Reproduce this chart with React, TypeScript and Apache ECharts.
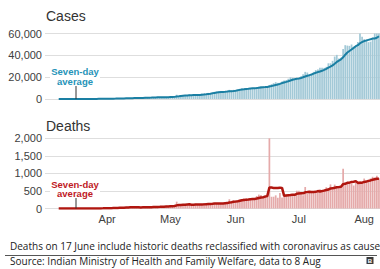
import React, { useEffect, useRef } from "react";
import * as echarts from "echarts";

// Daily values, 3 Mar 2020 to 8 Aug 2020
const START_DATE = "2020-03-03";
const DAY_COUNT = 159;

const casesDaily = [
  // Mar 3-31
  1, 22, 2, 1, 3, 5, 4, 6, 11, 9, 20, 11, 6, 23, 14, 38, 50, 86, 66, 103, 37, 121, 70, 160, 100, 316, 106, 227, 146,
  // Apr
  437, 235, 478, 525, 505, 704, 508, 485, 591, 896, 768, 918, 796, 1211, 1076, 1007, 826, 1334, 1553, 1336, 1383, 1409, 1684, 1429, 1990, 1396, 1543, 1594, 1813, 1718,
  // May
  1993, 2293, 2644, 3900, 2573, 3561, 3390, 3320, 3277, 4213, 3604, 3525, 3722, 3967, 3970, 4987, 5242, 4970, 5611, 5609, 6088, 6654, 6767, 6977, 6535, 6387, 6566, 7466, 8380, 7964, 8392,
  // Jun
  8171, 8909, 9304, 9851, 9887, 9971, 9983, 9987, 9985, 9996, 10956, 11458, 11929, 11502, 10667, 10974, 12881, 13586, 14516, 15413, 14821, 14933, 15968, 16922, 17296, 18552, 19906, 19459, 18522, 18653,
  // Jul
  19148, 20903, 22771, 24850, 24248, 22252, 22752, 24879, 26506, 27114, 28637, 28701, 28498, 29429, 32695, 32695, 34956, 38902, 40425, 37148, 37724, 45720, 49310, 48916, 48661, 49931, 47703, 48513, 52123, 61500, 57118,
  // Aug 1-8
  54735, 52972, 52050, 52509, 56282, 62538, 61537, 64399,
];

// Seven-day average, 9 Mar to 8 Aug
const casesAvg = [
  5, 6, 5, 6, 8, 9, 10, 12, 13, 17, 23, 33, 40, 54, 56, 72, 76, 92, 94, 130, 130, 157, 161,
  213, 224, 278, 308, 365, 433, 485, 491, 542, 602, 637, 696, 709, 809, 894, 953, 943, 1024, 1115, 1192, 1216, 1264, 1361, 1447, 1541, 1518, 1548, 1578, 1636, 1640,
  1721, 1764, 1943, 2279, 2419, 2669, 2908, 3097, 3238, 3462, 3420, 3556, 3579, 3661, 3754, 3998, 4145, 4340, 4638, 4908, 5211, 5594, 5849, 6097, 6320, 6431, 6568, 6765, 7011, 7182, 7384,
  7618, 7978, 8369, 8710, 8925, 9212, 9439, 9699, 9853, 9951, 10109, 10334, 10613, 10830, 10928, 11069, 11481, 11857, 12294, 12791, 13265, 13875, 14588, 15166, 15696, 16272, 16914, 17577, 18089, 18473,
  18791, 19306, 19909, 20615, 21299, 21832, 22418, 23236, 24037, 24657, 25198, 25834, 26727, 27681, 28797, 29681, 30802, 32268, 33943, 35179, 36364, 38224, 40598, 42592, 43986, 45344, 46852, 48393, 49308, 51050, 52221,
  53089, 53523, 54144, 54715, 55309, 55458, 56089, 57470,
];

const deathsDaily = [
  // Mar 3-31
  0, 0, 0, 0, 0, 0, 0, 0, 0, 1, 1, 0, 0, 0, 1, 0, 1, 1, 1, 3, 1, 3, 1, 4, 3, 5, 5, 6, 11,
  // Apr
  6, 20, 12, 17, 13, 32, 35, 20, 33, 40, 34, 37, 35, 27, 42, 23, 23, 40, 36, 45, 50, 41, 44, 42, 56, 47, 60, 56, 75, 72,
  // May
  73, 69, 83, 195, 126, 89, 104, 95, 128, 111, 87, 121, 134, 100, 103, 120, 157, 134, 157, 132, 140, 148, 137, 147, 146, 154, 170, 175, 265, 193, 230,
  // Jun
  204, 217, 260, 273, 294, 287, 261, 266, 246, 279, 357, 396, 386, 325, 380, 343, 2006, 334, 336, 375, 306, 445, 312, 418, 407, 384, 410, 380, 418, 507,
  // Jul
  507, 434, 379, 613, 425, 467, 482, 487, 475, 519, 551, 500, 553, 606, 582, 687, 543, 681, 587, 587, 648, 1130, 740, 757, 705, 708, 654, 768, 775, 779, 764,
  // Aug 1-8
  853, 771, 803, 857, 904, 886, 933, 861,
];

const deathsAvg = [
  0, 0, 0, 0.1, 0.3, 0.3, 0.3, 0.3, 0.4, 0.4, 0.4, 0.4, 0.6, 1, 1.1, 1.4, 1.6, 2, 2.3, 2.9, 3.1, 3.9, 5,
  5.7, 8, 9.3, 11, 12.1, 15.9, 19.3, 21.3, 23.1, 27.1, 29.6, 33, 33.4, 32.3, 35.4, 34, 31.6, 32.4, 32.3, 33.7, 37, 36.9, 39.9, 42.6, 44.9, 46.4, 48.6, 49.4, 54.3, 58.3,
  62.7, 64.6, 69.7, 89, 99, 101, 105.6, 108.7, 117.1, 121.1, 105.7, 105, 111.4, 110.9, 112, 110.9, 117.4, 124.1, 129.3, 129, 134.7, 141.1, 143.6, 142.1, 143.9, 143.4, 148.9, 153.9, 170.6, 178.6, 190.4,
  198.7, 207.7, 220.6, 234.6, 238.7, 252.1, 256.6, 265.4, 269.6, 272.3, 284.3, 298.9, 313, 322.1, 338.4, 352.3, 599, 595.7, 587.1, 585.6, 582.9, 592.1, 587.7, 360.9, 371.3, 378.1, 383.1, 393.7, 389.9, 417.7,
  430.4, 434.3, 433.6, 462.6, 469, 476, 472.4, 469.6, 475.4, 495.4, 486.6, 497.3, 509.6, 527.3, 540.9, 571.1, 574.6, 593.1, 605.6, 610.4, 616.4, 694.7, 702.3, 732.9, 736.3, 753.6, 763.1, 780.3, 729.6, 735.1, 736.1,
  757.3, 766.3, 787.6, 800.3, 818.7, 834, 847.6, 848.7,
];

const casesTicks = [0, 20000, 40000, 60000];
const deathsTicks = [0, 500, 1000, 1500, 2000];
const MONTHS = ["Jan", "Feb", "Mar", "Apr", "May", "Jun", "Jul", "Aug", "Sep", "Oct", "Nov", "Dec"];

const TITLE_CASES = "Cases";
const TITLE_DEATHS = "Deaths";
const ANNOTATION = "Seven-day\naverage";
const NOTE = "Deaths on 17 June include historic deaths reclassified with coronavirus as cause";
const SOURCE = "Source: Indian Ministry of Health and Family Welfare, data to 8 Aug";

const TEAL = "#1a7fa3";
const TEAL_BAR = "#a3c9d7";
const TEAL_TEXT = "#2593b8";
const RED = "#b0160f";
const RED_BAR = "#e5aaaa";
const RED_TEXT = "#c0191f";
const GRID = "#dedede";
const FONT = "'Liberation Sans', Arial, sans-serif";

function buildDates(): string[] {
  const [y, m, d] = START_DATE.split("-").map(Number);
  const out: string[] = [];
  for (let i = 0; i < DAY_COUNT; i++) {
    out.push(new Date(Date.UTC(y, m - 1, d + i)).toISOString().slice(0, 10));
  }
  return out;
}

function padAvg(avg: number[]): (number | null)[] {
  const pad = DAY_COUNT - avg.length;
  return [...new Array(pad).fill(null), ...avg];
}

export default function App() {
  const ref = useRef<HTMLDivElement>(null);

  useEffect(() => {
    if (!ref.current) return;
    const chart = echarts.init(ref.current, undefined, { renderer: "svg" });
    const dates = buildDates();

    const yLabel = {
      fontFamily: FONT,
      fontSize: 11,
      color: "#404040",
      margin: 3,
      formatter: (v: number) => v.toLocaleString("en-US"),
    };

    const annot = (cx: number, cy: number, lineTop: number, lineBottom: number, color: string) => [
      {
        type: "rect",
        z: 100,
        shape: { x: 50, y: cy - 10.5, width: 50, height: 21 },
        style: { fill: "#ffffff" },
      },
      {
        type: "text",
        z: 101,
        x: cx,
        y: cy,
        style: {
          text: ANNOTATION,
          fill: color,
          font: `bold 9.5px ${FONT}`,
          lineHeight: 9.5,
          textAlign: "center",
          textVerticalAlign: "middle",
        },
      },
      {
        type: "line",
        z: 101,
        shape: { x1: 76, y1: lineTop, x2: 76, y2: lineBottom },
        style: { stroke: "#333333", lineWidth: 1 },
      },
    ];

    chart.setOption({
      animation: false,
      textStyle: { fontFamily: FONT },
      grid: [
        { left: 45, width: 335, top: 33.5, height: 65.5 },
        { left: 45, width: 335, top: 138.3, height: 70.2 },
      ],
      xAxis: [
        {
          type: "category",
          gridIndex: 0,
          data: dates,
          axisLine: { show: false },
          axisTick: { show: false },
          axisLabel: { show: false },
        },
        {
          type: "category",
          gridIndex: 1,
          data: dates,
          axisLine: { show: false },
          axisTick: { show: false },
          axisLabel: {
            fontFamily: FONT,
            fontSize: 11,
            color: "#404040",
            margin: 5,
            interval: (_i: number, v: string) => v.slice(8) === "01",
            formatter: (v: string) => MONTHS[Number(v.slice(5, 7)) - 1],
          },
        },
      ],
      yAxis: [
        {
          type: "value",
          gridIndex: 0,
          min: casesTicks[0],
          max: casesTicks[casesTicks.length - 1],
          interval: casesTicks[1] - casesTicks[0],
          axisLine: { show: false },
          axisTick: { show: false },
          axisLabel: yLabel,
          splitLine: { lineStyle: { color: GRID, width: 1 } },
        },
        {
          type: "value",
          gridIndex: 1,
          min: deathsTicks[0],
          max: deathsTicks[deathsTicks.length - 1],
          interval: deathsTicks[1] - deathsTicks[0],
          axisLine: { show: false },
          axisTick: { show: false },
          axisLabel: yLabel,
          splitLine: { lineStyle: { color: GRID, width: 1 } },
        },
      ],
      series: [
        {
          type: "bar",
          xAxisIndex: 0,
          yAxisIndex: 0,
          data: casesDaily,
          itemStyle: { color: TEAL_BAR },
          barCategoryGap: "18%",
        },
        {
          type: "line",
          xAxisIndex: 0,
          yAxisIndex: 0,
          data: padAvg(casesAvg),
          symbol: "none",
          lineStyle: { color: TEAL, width: 2 },
          z: 5,
        },
        {
          type: "bar",
          xAxisIndex: 1,
          yAxisIndex: 1,
          data: deathsDaily,
          itemStyle: { color: RED_BAR },
          barCategoryGap: "18%",
        },
        {
          type: "line",
          xAxisIndex: 1,
          yAxisIndex: 1,
          data: padAvg(deathsAvg),
          symbol: "none",
          lineStyle: { color: RED, width: 2.5 },
          z: 5,
        },
      ],
      graphic: [
        {
          type: "text",
          x: 46,
          y: 15.5,
          style: {
            text: TITLE_CASES,
            fill: "#333333",
            font: `14px ${FONT}`,
            textVerticalAlign: "middle",
          },
        },
        {
          type: "text",
          x: 46,
          y: 125.5,
          style: {
            text: TITLE_DEATHS,
            fill: "#333333",
            font: `14px ${FONT}`,
            textVerticalAlign: "middle",
          },
        },
        ...annot(75, 76.5, 86, 99, TEAL_TEXT),
        ...annot(75, 189, 198, 208.5, RED_TEXT),
        {
          type: "text",
          x: 10,
          y: 245.5,
          style: {
            text: NOTE,
            fill: "#222222",
            font: `10px 'Open Sans', sans-serif`,
            textVerticalAlign: "middle",
          },
        },
        {
          type: "line",
          shape: { x1: 5, y1: 255.5, x2: 377, y2: 255.5 },
          style: { stroke: "#555555", lineWidth: 1 },
        },
        {
          type: "text",
          x: 10,
          y: 261,
          style: {
            text: SOURCE,
            fill: "#222222",
            font: `10px 'Open Sans', sans-serif`,
            textVerticalAlign: "middle",
          },
        },
        {
          type: "rect",
          shape: { x: 366.5, y: 257, width: 7, height: 7 },
          style: { fill: "#3a3a3a" },
        },
        {
          type: "text",
          x: 370,
          y: 260.6,
          style: {
            text: "B",
            fill: "#ffffff",
            font: `bold 6px ${FONT}`,
            textAlign: "center",
            textVerticalAlign: "middle",
          },
        },
      ],
    });

    return () => chart.dispose();
  }, []);

  return (
    <div
      ref={ref}
      style={{ position: "absolute", left: 0, top: 0, width: 380, height: 269 }}
    />
  );
}
